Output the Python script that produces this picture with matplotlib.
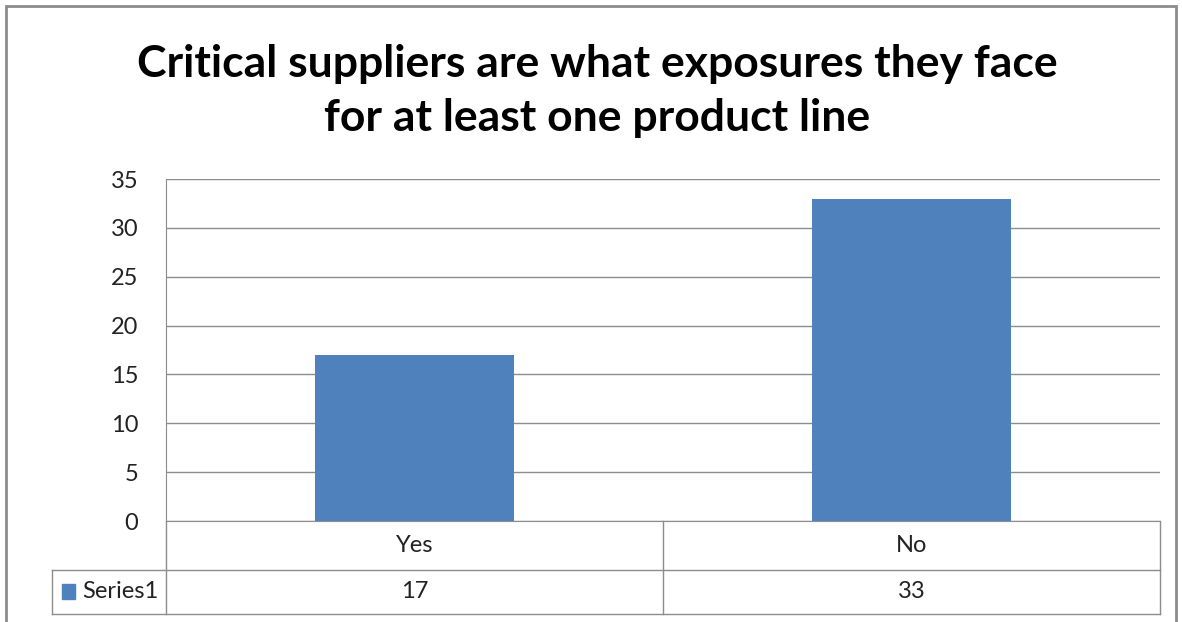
import matplotlib.pyplot as plt
from matplotlib.patches import Rectangle

# data
categories = ['Yes', 'No']
values = [17, 33]
series_name = 'Series1'
title = 'Critical suppliers are what exposures they face\nfor at least one product line'

W, H = 1182, 622
bar_color = '#4F81BD'
line_color = '#8C8C8C'
font = 'Lato'
fs = 17

fig = plt.figure(figsize=(W / 100, H / 100), dpi=100)
fig.patch.set_facecolor('white')

# outer chart frame (runs off the bottom edge like the screenshot)
fig.patches.append(Rectangle((6 / W, -0.02), 1170 / W, 1 - 6 / H + 0.02,
                             transform=fig.transFigure, fill=False,
                             edgecolor='#8C8C8C', linewidth=2))

left, right, top, bottom = 166, 1160, 179, 521
ax = fig.add_axes([left / W, 1 - bottom / H, (right - left) / W, (bottom - top) / H])

x = range(len(categories))
ax.bar(x, values, width=0.4, color=bar_color, zorder=3)
ax.set_xlim(-0.5, len(categories) - 0.5)
ax.set_ylim(0, 35)
ax.set_yticks(range(0, 36, 5))
ax.yaxis.grid(True, color=line_color, linewidth=1, zorder=0)
ax.set_xticks([])
ax.tick_params(axis='y', length=0, pad=20, labelsize=fs)
for lab in ax.get_yticklabels():
    lab.set_fontfamily(font)
    lab.set_color('#222222')
for side in ['top', 'right']:
    ax.spines[side].set_visible(False)
ax.spines['left'].set_color(line_color)
ax.spines['bottom'].set_color(line_color)

# data table under the axis, in axes coordinates
h = bottom - top
row1 = (bottom - 570) / h
row2 = (bottom - 614) / h
tbl_left = (52 - left) / (right - left)
kw = dict(transform=ax.transAxes, color=line_color, linewidth=1, clip_on=False)
ax.plot([0, 0], [0, row2], **kw)
ax.plot([1, 1], [0, row2], **kw)
ax.plot([0.5, 0.5], [0, row2], **kw)
ax.plot([tbl_left, 1], [row1, row1], **kw)
ax.plot([tbl_left, 1], [row2, row2], **kw)
ax.plot([tbl_left, tbl_left], [row1, row2], **kw)

for i, (cat, val) in enumerate(zip(categories, values)):
    cx = (i + 0.5) / len(categories)
    ax.text(cx, row1 / 2, cat, transform=ax.transAxes, ha='center', va='center',
            fontsize=fs, family=font, color='#222222')
    ax.text(cx, (row1 + row2) / 2, str(val), transform=ax.transAxes, ha='center',
            va='center', fontsize=fs, family=font, color='#222222')

# legend key in the table
ax.add_patch(Rectangle((tbl_left + 0.010, (row1 + row2) / 2 - 0.02), 0.013, 0.042,
                       transform=ax.transAxes, color=bar_color, clip_on=False))
ax.text(tbl_left + 0.030, (row1 + row2) / 2, series_name, transform=ax.transAxes,
        ha='left', va='center', fontsize=fs, family=font, color='#222222')

fig.text(597 / W, 1 - 91 / H, title, ha='center', va='center', fontsize=32,
         fontweight='bold', family=font, linespacing=1.4)

fig.savefig('out.png', dpi=100)
